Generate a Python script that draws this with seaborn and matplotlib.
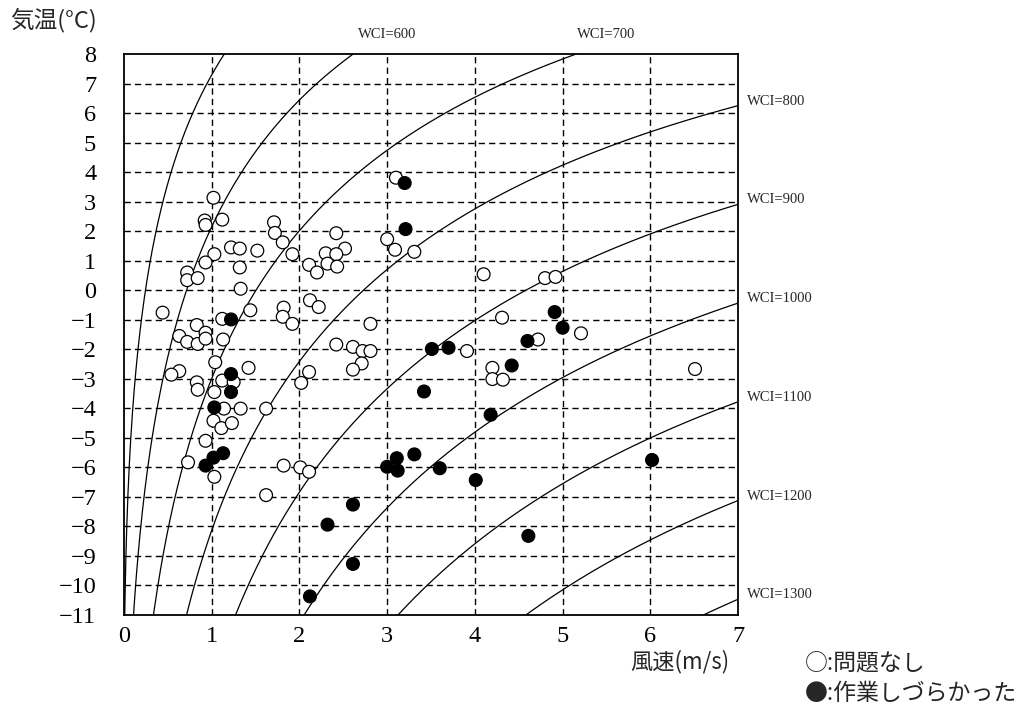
import numpy as np
import pandas as pd
import matplotlib
matplotlib.use("Agg")
import matplotlib.pyplot as plt
import seaborn as sns

# ---- data ----
ok_wind = [1.02, 1.12, 0.92, 0.93, 1.22, 1.32, 1.52, 1.03, 0.93, 1.32, 0.72, 0.72, 0.84, 1.33,
           1.71, 1.72, 1.81, 1.92, 2.11, 2.20, 0.44, 1.44, 1.82, 1.81, 1.92, 2.12, 2.22, 1.12,
           0.83, 0.93, 0.63, 0.72, 0.84, 0.93, 1.13, 1.04, 1.42, 0.63, 0.54, 1.12, 1.25, 0.83,
           0.84, 1.03, 2.11, 2.02, 1.14, 1.33, 1.62, 1.02, 1.11, 1.23, 0.93, 0.73, 1.03, 1.82,
           2.01, 2.11, 1.62, 3.10, 2.42, 3.00, 3.09, 3.31, 2.52, 2.30, 2.42, 2.32, 2.43, 4.10,
           2.81, 2.42, 2.61, 2.72, 2.81, 2.71, 2.61, 3.91, 4.80, 4.92, 4.31, 5.21, 4.72, 4.20,
           4.20, 4.32, 6.51]
ok_temp = [3.13, 2.39, 2.36, 2.21, 1.45, 1.41, 1.34, 1.22, 0.94, 0.77, 0.60, 0.34, 0.41, 0.05,
           2.30, 1.94, 1.62, 1.22, 0.86, 0.60, -0.76, -0.68, -0.59, -0.90, -1.14, -0.34, -0.57, -0.97,
           -1.18, -1.44, -1.55, -1.75, -1.82, -1.64, -1.67, -2.44, -2.63, -2.74, -2.86, -3.06, -3.11, -3.12,
           -3.37, -3.45, -2.77, -3.14, -4.01, -4.01, -4.01, -4.42, -4.67, -4.50, -5.10, -5.83, -6.32, -5.94,
           -6.00, -6.15, -6.94, 3.81, 1.93, 1.73, 1.37, 1.30, 1.41, 1.25, 1.22, 0.90, 0.80, 0.54,
           -1.14, -1.84, -1.92, -2.06, -2.06, -2.48, -2.69, -2.06, 0.41, 0.45, -0.93, -1.46, -1.67, -2.63,
           -3.01, -3.03, -2.67]

hard_wind = [1.22, 1.22, 1.22, 1.03, 1.13, 1.02, 0.93, 3.20, 3.21, 3.51, 3.70, 3.42, 4.18, 3.31,
             3.11, 3.00, 3.12, 3.60, 4.01, 2.61, 2.32, 2.61, 2.12, 4.91, 5.00, 4.60, 4.42, 6.02, 4.61]
hard_temp = [-0.99, -2.84, -3.45, -3.97, -5.52, -5.67, -5.94, 3.63, 2.07, -1.99, -1.95, -3.43, -4.22, -5.56,
             -5.69, -5.98, -6.11, -6.03, -6.43, -7.26, -7.94, -9.27, -10.37, -0.74, -1.27, -1.72, -2.55, -5.75, -8.32]

group_labels = ["問題なし", "作業しづらかった"]
wci_levels = [500, 600, 700, 800, 900, 1000, 1100, 1200, 1300]
x_ticks = [0, 1, 2, 3, 4, 5, 6, 7]
y_ticks = list(range(-11, 9))

# ---- figure ----
sns.set_theme(style="white")
plt.rcParams["font.family"] = ["Liberation Serif", "DejaVu Serif"]
jp = ["Noto Sans CJK JP", "DejaVu Sans"]

fig = plt.figure(figsize=(10.26, 7.10), dpi=100)
ax = fig.add_axes([124 / 1026, 1 - 615 / 710, 614 / 1026, 561 / 710])

# WCI isolines (Siple formula)
v = np.linspace(0.0005, 7, 1400)
curve_rows = []
for w in wci_levels:
    t = 33 - w / (10.45 + 10 * np.sqrt(v) - v)
    curve_rows.append(pd.DataFrame({"v": v, "t": t, "wci": w}))
curves = pd.concat(curve_rows, ignore_index=True)
sns.lineplot(data=curves, x="v", y="t", units="wci", estimator=None, color="black",
             linewidth=0.9, ax=ax, legend=False, sort=False)

# grid
for gx in x_ticks[1:-1]:
    ax.axvline(gx, color="black", lw=1.0, linestyle=(0, (4.5, 3)), zorder=1)
for gy in y_ticks[1:-1]:
    ax.axhline(gy, color="black", lw=1.0, linestyle=(0, (4.5, 3)), zorder=1)

pts = pd.DataFrame({
    "wind": ok_wind + hard_wind,
    "temp": ok_temp + hard_temp,
    "group": [group_labels[0]] * len(ok_wind) + [group_labels[1]] * len(hard_wind),
})
sns.scatterplot(data=pts, x="wind", y="temp", hue="group",
                palette={group_labels[0]: "white", group_labels[1]: "black"},
                edgecolor="black", linewidth=0.9, s=85, ax=ax, legend=False, zorder=3)

ax.set_xlim(0, 7)
ax.set_ylim(-11, 8)
ax.set_xticks(x_ticks)
ax.set_yticks(y_ticks)
ax.set_yticklabels([str(t).replace("-", "\u2212") for t in y_ticks])
ax.tick_params(axis="both", labelsize=17.5, length=0, colors="black")
ax.tick_params(axis="y", pad=20)
ax.tick_params(axis="x", pad=8)
ax.set_xlabel("")
ax.set_ylabel("")
for s in ax.spines.values():
    s.set_visible(True)
    s.set_color("black")
    s.set_linewidth(1.3)

# WCI labels
ax.text(3.0, 8.65, "WCI=600", ha="center", va="center", fontsize=10.5, clip_on=False)
ax.text(5.5, 8.65, "WCI=700", ha="center", va="center", fontsize=10.5, clip_on=False)
for w in wci_levels[3:]:
    t_end = 33 - w / (10.45 + 10 * np.sqrt(7) - 7)
    ax.text(7.1, t_end + 0.15, f"WCI={w}", ha="left", va="center", fontsize=10.5, clip_on=False)

# axis titles and legend text
fig.text(10 / 1026, 1 - 20 / 710, "気温(°C)", family=jp, fontsize=17, ha="left", va="center")
fig.text(680 / 1026, 1 - 662 / 710, "風速(m/s)", family=jp, fontsize=16, ha="center", va="center")
fig.text(805 / 1026, 1 - 663 / 710, "○:" + group_labels[0], family=jp, fontsize=16.5, ha="left", va="center")
fig.text(805 / 1026, 1 - 693 / 710, "●:" + group_labels[1], family=jp, fontsize=16.5, ha="left", va="center")

fig.savefig("out.png", dpi=100, facecolor="white")
